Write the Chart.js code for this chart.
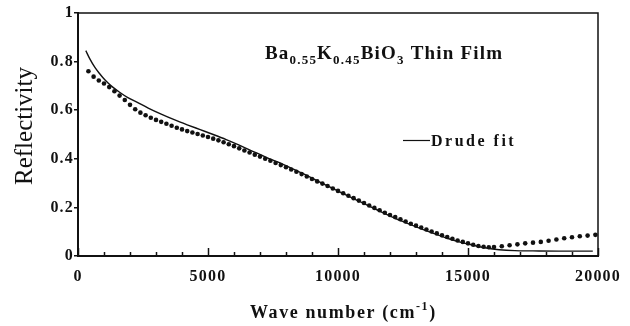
<!DOCTYPE html>
<html>
<head>
<meta charset="utf-8">
<script src="https://cdn.jsdelivr.net/npm/chart.js@4.4.1/dist/chart.umd.min.js"></script>
<style>
  html, body { margin: 0; padding: 0; background: #fff; }
  #wrap { width: 630px; height: 326px; position: relative; }
</style>
</head>
<body>
<div id="wrap"><canvas id="chart" width="630" height="326"></canvas></div>
<script>
// measured reflectivity (dots)
const dataWave = [
  400, 600, 800, 1000, 1200, 1400, 1600, 1800, 2000, 2200,
  2400, 2600, 2800, 3000, 3200, 3400, 3600, 3800, 4000, 4200,
  4400, 4600, 4800, 5000, 5200, 5400, 5600, 5800, 6000, 6200,
  6400, 6600, 6800, 7000, 7200, 7400, 7600, 7800, 8000, 8200,
  8400, 8600, 8800, 9000, 9200, 9400, 9600, 9800, 10000, 10200,
  10400, 10600, 10800, 11000, 11200, 11400, 11600, 11800, 12000, 12200,
  12400, 12600, 12800, 13000, 13200, 13400, 13600, 13800, 14000, 14200,
  14400, 14600, 14800, 15000, 15200, 15400, 15600, 15800, 16000, 16300,
  16600, 16900, 17200, 17500, 17800, 18100, 18400, 18700, 19000, 19300,
  19600, 19900
];
const dataR = [
  0.760, 0.738, 0.722, 0.710, 0.695, 0.678, 0.660, 0.642, 0.622, 0.604,
  0.590, 0.579, 0.569, 0.560, 0.552, 0.544, 0.536, 0.528, 0.521, 0.514,
  0.508, 0.502, 0.496, 0.490, 0.483, 0.476, 0.468, 0.460, 0.452, 0.443,
  0.434, 0.426, 0.417, 0.409, 0.400, 0.392, 0.383, 0.374, 0.365, 0.356,
  0.347, 0.337, 0.327, 0.317, 0.307, 0.298, 0.288, 0.278, 0.268, 0.258,
  0.248, 0.238, 0.228, 0.218, 0.208, 0.198, 0.188, 0.178, 0.169, 0.160,
  0.151, 0.142, 0.133, 0.125, 0.117, 0.109, 0.101, 0.093, 0.085, 0.078,
  0.071, 0.064, 0.058, 0.052, 0.046, 0.041, 0.038, 0.036, 0.037, 0.040,
  0.044, 0.048, 0.052, 0.055, 0.058, 0.063, 0.068, 0.073, 0.077, 0.081,
  0.084, 0.087
];

// Drude model curve
const fitWave = [
  300, 450, 650, 850, 1040, 1300, 1600, 1900, 2300, 2700,
  3200, 3700, 4200, 4700, 5200, 5700, 6200, 6700, 7200, 7700,
  8200, 8700, 9200, 9700, 10200, 10700, 11200, 11700, 12200, 12700,
  13200, 13700, 14200, 14700, 15200, 15700, 16200, 16800, 17500, 18500,
  19500, 19800
];
const fitR = [
  0.845, 0.812, 0.776, 0.748, 0.724, 0.698, 0.674, 0.653, 0.631, 0.609,
  0.584, 0.561, 0.540, 0.520, 0.500, 0.479, 0.456, 0.432, 0.408, 0.386,
  0.362, 0.337, 0.309, 0.283, 0.257, 0.231, 0.205, 0.180, 0.155, 0.133,
  0.112, 0.092, 0.073, 0.057, 0.044, 0.033, 0.026, 0.022, 0.021, 0.020,
  0.020, 0.020
];

const xTickStep = 5000;
const xMinorStep = 1000;
const yTickStep = 0.2;

const SERIF = '"Liberation Serif", "DejaVu Serif", serif';
const INK = '#111';

function toPoints(xs, ys) {
  return xs.map((x, i) => ({ x: x, y: ys[i] }));
}

// draws a row of text pieces (for subscripts / superscripts)
function drawRuns(ctx, x, y, runs, spacing) {
  ctx.letterSpacing = spacing + 'px';
  ctx.textAlign = 'left';
  ctx.textBaseline = 'alphabetic';
  runs.forEach(r => {
    ctx.font = r.font;
    ctx.fillText(r.text, x, y + (r.dy || 0));
    x += ctx.measureText(r.text).width;
  });
  ctx.letterSpacing = '0px';
}

const decor = {
  id: 'decor',
  beforeDraw(chart) {
    chart.ctx.letterSpacing = '1.2px';
  },
  afterDraw(chart) {
    const ctx = chart.ctx;
    const a = chart.chartArea;
    const xs = chart.scales.x;
    ctx.save();
    ctx.letterSpacing = '0px';
    ctx.strokeStyle = INK;

    // frame top and right
    ctx.lineWidth = 1.5;
    ctx.beginPath();
    ctx.moveTo(a.left, a.top);
    ctx.lineTo(a.right, a.top);
    ctx.lineTo(a.right, a.bottom);
    ctx.stroke();

    // inward ticks on the wavenumber axis
    ctx.lineWidth = 1.5;
    for (let v = 0; v <= xs.max; v += xMinorStep) {
      const px = Math.round(xs.getPixelForValue(v)) + 0.5;
      const len = v % xTickStep === 0 ? 8 : 4;
      ctx.beginPath();
      ctx.moveTo(px, a.bottom);
      ctx.lineTo(px, a.bottom - len);
      ctx.stroke();
    }

    ctx.fillStyle = INK;

    // sample label
    const big = 'bold 19px ' + SERIF;
    const sub = 'bold 13px ' + SERIF;
    drawRuns(ctx, 265, 59, [
      { text: 'Ba', font: big },
      { text: '0.55', font: sub, dy: 5 },
      { text: 'K', font: big },
      { text: '0.45', font: sub, dy: 5 },
      { text: 'BiO', font: big },
      { text: '3', font: sub, dy: 5 },
      { text: ' Thin Film', font: big }
    ], 1.2);

    // legend for the fit line
    ctx.lineWidth = 1.2;
    ctx.beginPath();
    ctx.moveTo(403, 140.5);
    ctx.lineTo(430, 140.5);
    ctx.stroke();
    drawRuns(ctx, 431, 145.5, [{ text: 'Drude fit', font: 'bold 16px ' + SERIF }], 2.5);

    // x axis title with superscript
    const t = 'bold 18px ' + SERIF;
    drawRuns(ctx, 250, 318, [
      { text: 'Wave number (cm', font: t },
      { text: '-1', font: 'bold 12px ' + SERIF, dy: -8 },
      { text: ')', font: t }
    ], 1.6);

    // y axis title
    ctx.save();
    ctx.translate(32, 126);
    ctx.rotate(-Math.PI / 2);
    ctx.font = '25px ' + SERIF;
    ctx.textAlign = 'center';
    ctx.textBaseline = 'alphabetic';
    ctx.fillText('Reflectivity', 0, 0);
    ctx.restore();

    ctx.restore();
  }
};

const ctx = document.getElementById('chart').getContext('2d');
const chart = new Chart(ctx, {
  type: 'scatter',
  data: {
    datasets: [
      {
        label: 'Drude fit',
        data: toPoints(fitWave, fitR),
        showLine: true,
        borderColor: INK,
        borderWidth: 1.4,
        pointRadius: 0,
        cubicInterpolationMode: 'monotone',
        fill: false
      },
      {
        label: 'data',
        data: toPoints(dataWave, dataR),
        showLine: false,
        pointRadius: 2.3,
        pointBorderWidth: 0,
        pointBackgroundColor: INK
      }
    ]
  },
  options: {
    responsive: false,
    animation: false,
    layout: { padding: { top: 13, right: 32, left: 0, bottom: 0 } },
    plugins: {
      legend: { display: false },
      tooltip: { enabled: false }
    },
    scales: {
      x: {
        type: 'linear',
        min: 0,
        max: 20000,
        afterFit: s => { s.height = 70; },
        grid: { display: false, drawTicks: false },
        border: { display: true, color: INK, width: 2 },
        ticks: {
          stepSize: xTickStep,
          padding: 11,
          color: INK,
          maxRotation: 0,
          callback: v => String(v),
          font: { family: SERIF, size: 16, weight: 'bold' }
        }
      },
      y: {
        min: 0,
        max: 1,
        afterFit: s => { s.width = 78; },
        grid: { drawOnChartArea: false, color: INK, lineWidth: 1.5, tickLength: 4 },
        border: { display: true, color: INK, width: 2 },
        ticks: {
          stepSize: yTickStep,
          padding: 0,
          color: INK,
          callback: v => String(Number(v.toFixed(1))),
          font: { family: SERIF, size: 16, weight: 'bold' }
        }
      }
    }
  },
  plugins: [decor]
});
</script>
</body>
</html>
